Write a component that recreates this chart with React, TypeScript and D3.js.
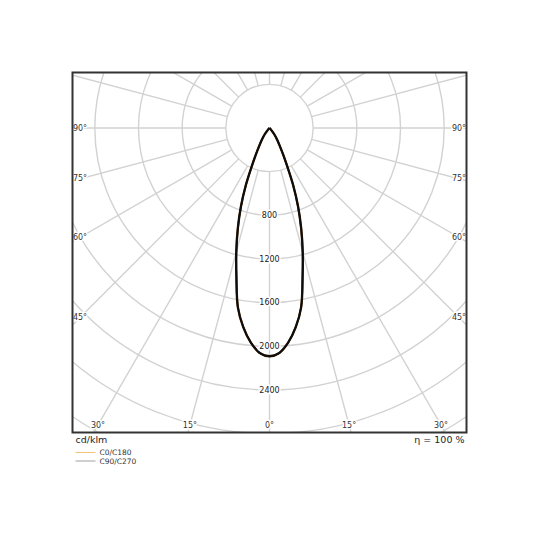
import * as d3 from 'd3';

// luminous intensity (cd/klm) by gamma angle, 0° = nadir
const gammaAngles = [
  0, 2.5, 5, 7.5, 10, 12.5, 15, 17.5, 20, 22.5, 25, 27.5, 30, 32.5, 35, 37.5, 40, 42.5, 45, 47.5,
  50, 60, 70, 80, 90,
];
const c0c180 = [
  2091, 2062, 1972, 1840, 1668, 1400, 1175, 965, 765, 565, 378, 262, 186, 138, 100, 65, 35, 15, 5, 0,
  0, 0, 0, 0, 0,
];
const c90c270 = [
  2091, 2062, 1972, 1840, 1668, 1400, 1175, 965, 765, 565, 378, 262, 186, 138, 100, 65, 35, 15, 5, 0,
  0, 0, 0, 0, 0,
];

const ringValues = [400, 800, 1200, 1600, 2000, 2400, 2800, 3200, 3600, 4000];
const ringLabels = [800, 1200, 1600, 2000, 2400];
const spokeAngles = d3.range(0, 360, 15);
const sideLabels = [90, 75, 60, 45];
const bottomLabels = [-30, -15, 0, 15, 30];

const legendItems = [
  { name: 'C0/C180', color: '#f5c27a' },
  { name: 'C90/C270', color: '#a0a0a0' },
];

const W = 540;
const H = 540;
const frame = { left: 72.5, top: 72.5, right: 466.5, bottom: 432.5 };
const cx = (frame.left + frame.right) / 2;
const cy = 128;
const font = 'DejaVu Sans, sans-serif';

export default function App() {
  const r = d3.scaleLinear().domain([0, 2400]).range([0, 262]);
  const rad = (deg: number) => (deg * Math.PI) / 180;

  // full closed path: left half (C180 / C270) then right half (C0 / C90)
  const buildPoints = (values: number[]) => {
    const right = gammaAngles.map((g, i) => ({ a: Math.PI - rad(g), v: values[i] }));
    const left = gammaAngles.map((g, i) => ({ a: Math.PI + rad(g), v: values[i] })).reverse();
    return [...left, ...right.slice(1)];
  };

  const line = d3
    .lineRadial<{ a: number; v: number }>()
    .angle((d) => d.a)
    .radius((d) => r(d.v))
    .curve(d3.curveCatmullRom.alpha(0.5));

  const r0 = r(400);
  const d = cx - (frame.left + 7.5);
  const dyB = frame.bottom - 7.5 - cy;

  const halo = { stroke: '#fff', strokeWidth: 3, paintOrder: 'stroke' as const };

  return (
    <div style={{ position: 'absolute', left: 0, top: 0 }}>
      <svg width={W} height={H} style={{ display: 'block', background: '#fff' }}>
        <defs>
          <clipPath id="frameClip">
            <rect
              x={frame.left}
              y={frame.top}
              width={frame.right - frame.left}
              height={frame.bottom - frame.top}
            />
          </clipPath>
        </defs>

        <g clipPath="url(#frameClip)">
          {/* rings */}
          {ringValues.map((v) => (
            <circle key={v} cx={cx} cy={cy} r={r(v)} fill="none" stroke="#d2d2d2" strokeWidth={1.4} />
          ))}
          {/* spokes */}
          {spokeAngles.map((g) => {
            const s = Math.sin(rad(g));
            const c = Math.cos(rad(g));
            return (
              <line
                key={g}
                x1={cx + r0 * s}
                y1={cy + r0 * c}
                x2={cx + 700 * s}
                y2={cy + 700 * c}
                stroke="#d2d2d2"
                strokeWidth={1.4}
              />
            );
          })}

          {/* curves */}
          <g transform={`translate(${cx},${cy})`}>
            <path d={line(buildPoints(c0c180)) ?? ''} fill="none" stroke="#3a1c00" strokeWidth={2.4} />
            <path d={line(buildPoints(c90c270)) ?? ''} fill="none" stroke="#0d0d0d" strokeWidth={1.8} />
          </g>

          {/* ring labels */}
          {ringLabels.map((v) => (
            <text
              key={v}
              x={cx}
              y={cy + r(v)}
              textAnchor="middle"
              dominantBaseline="central"
              fontFamily={font}
              fontSize={8}
              fill="#222"
              {...halo}
            >
              {v}
            </text>
          ))}

          {/* side angle labels */}
          {sideLabels.map((g) => {
            const y = cy + d / Math.tan(rad(g));
            return (
              <g key={g}>
                <text x={frame.left + 7.5} y={y} textAnchor="middle" dominantBaseline="central"
                  fontFamily={font} fontSize={8} fill="#333" {...halo}>
                  {g}°
                </text>
                <text x={frame.right - 7.5} y={y} textAnchor="middle" dominantBaseline="central"
                  fontFamily={font} fontSize={8} fill="#333" {...halo}>
                  {g}°
                </text>
              </g>
            );
          })}

          {/* bottom angle labels */}
          {bottomLabels.map((g) => (
            <text
              key={g}
              x={cx + dyB * Math.tan(rad(g))}
              y={frame.bottom - 7.5}
              textAnchor="middle"
              dominantBaseline="central"
              fontFamily={font}
              fontSize={8}
              fill="#333"
              {...halo}
            >
              {Math.abs(g)}°
            </text>
          ))}
        </g>

        {/* frame */}
        <rect
          x={frame.left}
          y={frame.top}
          width={frame.right - frame.left}
          height={frame.bottom - frame.top}
          fill="none"
          stroke="#333"
          strokeWidth={2}
        />

        <text x={frame.left + 3} y={frame.bottom + 10} fontFamily={font} fontSize={9.5} fill="#222">
          cd/klm
        </text>
        <text x={frame.right - 2} y={frame.bottom + 10} textAnchor="end" fontFamily={font} fontSize={9.5} fill="#222">
          η = 100 %
        </text>

        {/* legend */}
        {legendItems.map((item, i) => {
          const y = frame.bottom + 20 + i * 8.5;
          return (
            <g key={item.name}>
              <line x1={frame.left + 3} x2={frame.left + 23} y1={y} y2={y} stroke={item.color} strokeWidth={1} />
              <text x={frame.left + 27} y={y} dominantBaseline="central" fontFamily={font} fontSize={7.5} fill="#333">
                {item.name}
              </text>
            </g>
          );
        })}
      </svg>
    </div>
  );
}
